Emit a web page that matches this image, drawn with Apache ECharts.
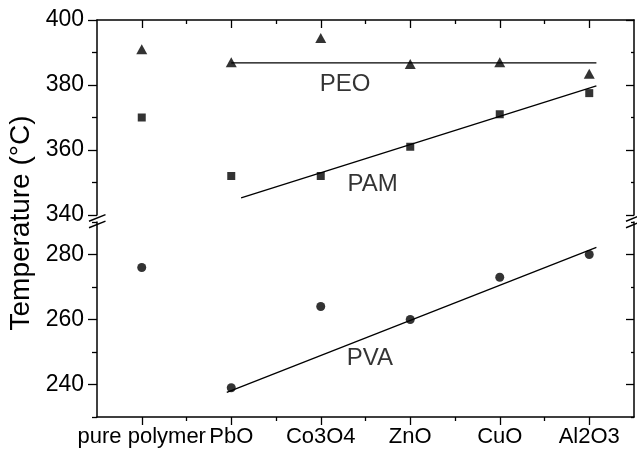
<!DOCTYPE html>
<html>
<head>
<meta charset="utf-8">
<script src="https://cdn.jsdelivr.net/npm/echarts@6/dist/echarts.min.js"></script>
<style>
  html, body { margin: 0; padding: 0; background: #fff; }
  #chart { width: 637px; height: 452px; }
</style>
</head>
<body>
<div id="chart"></div>
<script>
// Decomposition temperatures of the polymer / oxide composites
const categories = ['pure polymer', 'PbO', 'Co3O4', 'ZnO', 'CuO', 'Al2O3'];
const peoValues = [391, 387, 394.5, 386.5, 387, 383.5];
const pamValues = [370, 352, 352, 361, 371, 377.5];
const pvaValues = [276, 239, 264, 260, 273, 280];

// Fitted trend lines (start and end points, x in category units)
const peoFit = [[1, 386.8], [5.08, 386.8]];
const pamFit = [[1.11, 345.3], [5.08, 379.7]];
const pvaFit = [[0.95, 237.6], [5.08, 282.2]];

// Tick values for the broken temperature axis
const upperMajor = [340, 360, 380, 400];
const upperMinor = [350, 370, 390];
const lowerMajor = [240, 260, 280];
const lowerMinor = [230, 250, 270, 290];
const upperRange = [340, 400];
const lowerRange = [230, 290];

const xMajor = categories.map((_, i) => i);
const xMinor = categories.slice(1).map((_, i) => i + 0.5);

const FONT = "'Liberation Sans', Arial, sans-serif";
const INK = '#000';
const GL = 97, GW = 537, UT = 20, GH = 195, LT = 222;

const chart = echarts.init(document.getElementById('chart'), null, { renderer: 'canvas' });

function xAxisDef(grid, pos, ticks, len, inside, withLine, withLabel) {
  return {
    type: 'value', gridIndex: grid, position: pos, min: -0.5, max: 5.5,
    axisLine: { show: withLine, onZero: false, lineStyle: { color: INK, width: 1.5 } },
    axisTick: { show: true, customValues: ticks, inside: inside, length: len, lineStyle: { color: INK, width: 1.3 } },
    axisLabel: withLabel ? {
      show: true, customValues: ticks, margin: 9, color: INK, fontSize: 22, fontFamily: FONT,
      formatter: v => categories[Math.round(v)]
    } : { show: false },
    splitLine: { show: false }
  };
}

function yAxisDef(grid, pos, range, ticks, len, inside, withLine, withLabel) {
  return {
    type: 'value', gridIndex: grid, position: pos, min: range[0], max: range[1],
    axisLine: { show: withLine, onZero: false, lineStyle: { color: INK, width: 1.5 } },
    axisTick: { show: true, customValues: ticks, inside: inside, length: len, lineStyle: { color: INK, width: 1.3 } },
    axisLabel: withLabel ? {
      show: true, customValues: ticks, margin: 13, color: INK, fontSize: 23, fontFamily: FONT
    } : { show: false },
    splitLine: { show: false }
  };
}

// break marks drawn across the left and right frame lines
function breakMarks(x) {
  const marks = [];
  [218, 224.5].forEach(y => {
    marks.push({
      type: 'line',
      shape: { x1: x - 8, y1: y + 3.2, x2: x + 8.5, y2: y - 3.4 },
      style: { stroke: INK, lineWidth: 1.5 }
    });
  });
  return marks;
}

const option = {
  backgroundColor: '#fff',
  animation: false,
  grid: [
    { left: GL, top: UT, width: GW, height: GH },
    { left: GL, top: LT, width: GW, height: GH }
  ],
  xAxis: [
    xAxisDef(0, 'top', xMajor, 8, true, true, false),     // 0: upper data axis / top frame
    xAxisDef(0, 'top', xMinor, 4, true, false, false),    // 1: top minor ticks
    xAxisDef(1, 'bottom', xMajor, 8, false, true, true),  // 2: lower data axis / categories
    xAxisDef(1, 'bottom', xMinor, 4, false, false, false) // 3: bottom minor ticks
  ],
  yAxis: [
    yAxisDef(0, 'left', upperRange, upperMajor, 9, false, true, true),   // 0
    yAxisDef(0, 'left', upperRange, upperMinor, 5, false, false, false), // 1
    yAxisDef(0, 'right', upperRange, upperMajor, 8, true, true, false),  // 2
    yAxisDef(0, 'right', upperRange, upperMinor, 3, true, false, false), // 3
    yAxisDef(1, 'left', lowerRange, lowerMajor, 9, false, true, true),   // 4
    yAxisDef(1, 'left', lowerRange, lowerMinor, 5, false, false, false), // 5
    yAxisDef(1, 'right', lowerRange, lowerMajor, 8, true, true, false),  // 6
    yAxisDef(1, 'right', lowerRange, lowerMinor, 3, true, false, false)  // 7
  ],
  graphic: [
    {
      type: 'text', x: 21, y: 223, rotation: Math.PI / 2,
      style: {
        text: 'Temperature (°C)', fill: INK, font: '28px ' + FONT,
        align: 'center', verticalAlign: 'middle'
      }
    },
    ...breakMarks(GL),
    ...breakMarks(GL + GW)
  ],
  series: [
    {
      name: 'PEO fit', type: 'line', xAxisIndex: 0, yAxisIndex: 0, data: peoFit,
      symbol: 'none', lineStyle: { color: INK, width: 1.3 }, z: 2
    },
    {
      name: 'PAM fit', type: 'line', xAxisIndex: 0, yAxisIndex: 0, data: pamFit,
      symbol: 'none', lineStyle: { color: INK, width: 1.3 }, z: 2
    },
    {
      name: 'PVA fit', type: 'line', xAxisIndex: 2, yAxisIndex: 4, data: pvaFit,
      symbol: 'none', lineStyle: { color: INK, width: 1.3 }, z: 2
    },
    {
      name: 'PEO', type: 'scatter', xAxisIndex: 0, yAxisIndex: 0,
      data: peoValues.map((v, i) => [i, v]),
      symbol: 'triangle', symbolSize: [11, 10], itemStyle: { color: INK }, z: 3
    },
    {
      name: 'PAM', type: 'scatter', xAxisIndex: 0, yAxisIndex: 0,
      data: pamValues.map((v, i) => [i, v]),
      symbol: 'rect', symbolSize: 8, itemStyle: { color: INK }, z: 3
    },
    {
      name: 'PVA', type: 'scatter', xAxisIndex: 2, yAxisIndex: 4,
      data: pvaValues.map((v, i) => [i, v]),
      symbol: 'circle', symbolSize: 9, itemStyle: { color: INK }, z: 3
    },
    {
      name: 'upper names', type: 'scatter', xAxisIndex: 0, yAxisIndex: 0,
      symbolSize: 0, silent: true,
      label: {
        show: true, position: 'right', distance: 0, color: INK, fontSize: 24, fontFamily: FONT,
        formatter: p => p.data.name
      },
      data: [
        { name: 'PEO', value: [1.99, 380.3] },
        { name: 'PAM', value: [2.3, 349.5] }
      ]
    },
    {
      name: 'lower names', type: 'scatter', xAxisIndex: 2, yAxisIndex: 4,
      symbolSize: 0, silent: true,
      label: {
        show: true, position: 'right', distance: 0, color: INK, fontSize: 24, fontFamily: FONT,
        formatter: p => p.data.name
      },
      data: [
        { name: 'PVA', value: [2.29, 248] }
      ]
    }
  ]
};

chart.setOption(option);
</script>
</body>
</html>
